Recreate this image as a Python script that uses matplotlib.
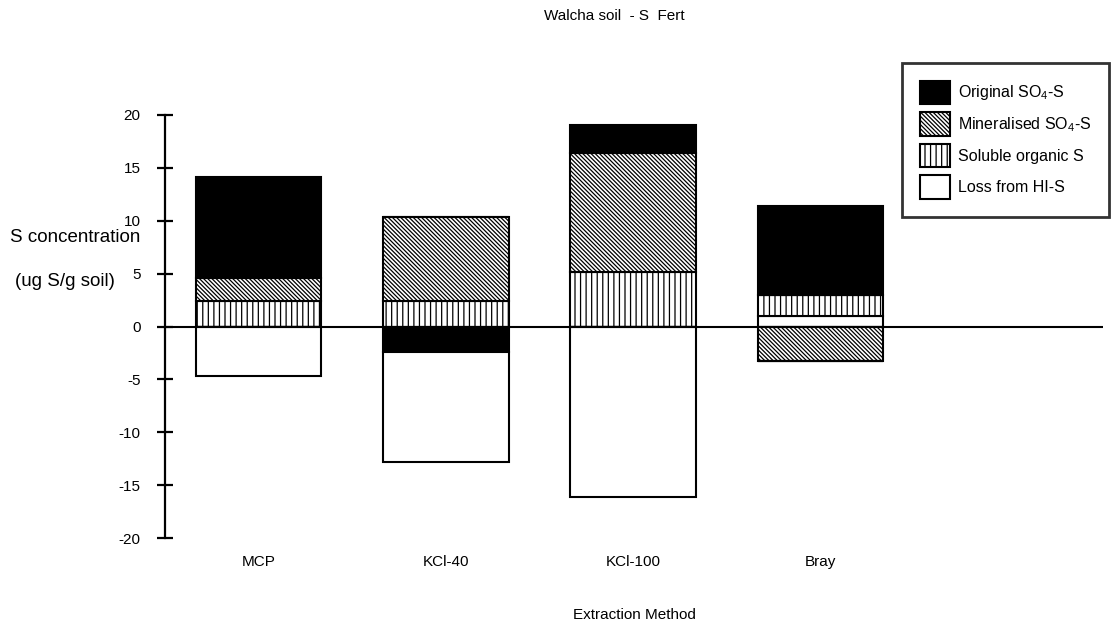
import matplotlib
matplotlib.use("Agg")
import matplotlib.pyplot as plt
from matplotlib.patches import Patch
import numpy as np

plt.rcParams['font.family'] = ['Liberation Sans', 'DejaVu Sans']
plt.rcParams['mathtext.fontset'] = 'custom'
plt.rcParams['mathtext.rm'] = 'Liberation Sans'
plt.rcParams['mathtext.default'] = 'regular'
plt.rcParams['hatch.linewidth'] = 0.9

# data (ug S/g soil)
categories = ['MCP', 'KCl-40', 'KCl-100', 'Bray']
original = [9.5, -2.4, 2.7, 8.4]
mineralised = [2.2, 8.0, 11.2, -3.3]
soluble = [2.4, 2.4, 5.2, 2.0]
loss = [-4.7, -10.4, -16.1, 1.0]

series_labels = ['Original SO$_4$-S', 'Mineralised SO$_4$-S', 'Soluble organic S', 'Loss from HI-S']
y_ticks = [20, 15, 10, 5, 0, -5, -10, -15, -20]

# fill style for each series: (facecolor, hatch)
styles = {
    'orig': ('black', None),
    'min': ('white', '\\' * 8),
    'sol': ('white', '|||'),
    'loss': ('white', None),
}
series = {'orig': original, 'min': mineralised, 'sol': soluble, 'loss': loss}
# stacking order away from zero, positive side; negative side is reversed
pos_order = ['loss', 'sol', 'min', 'orig']
neg_order = pos_order[::-1]

fig = plt.figure(figsize=(11.14, 6.25), dpi=100)
ax = fig.add_axes([165 / 1114, 1 - 538 / 625, (1103 - 165) / 1114, (538 - 115) / 625])

x = np.arange(len(categories))
width = 0.67
pos_bottom = np.zeros(len(categories))
neg_bottom = np.zeros(len(categories))

for key in pos_order:
    vals = np.array(series[key])
    v = np.where(vals > 0, vals, 0)
    fc, h = styles[key]
    ax.bar(x, v, width, bottom=pos_bottom, color=fc, edgecolor='black',
           hatch=h, linewidth=1.5, zorder=2)
    pos_bottom += v

for key in neg_order:
    vals = np.array(series[key])
    v = np.where(vals < 0, vals, 0)
    fc, h = styles[key]
    ax.bar(x, v, width, bottom=neg_bottom, color=fc, edgecolor='black',
           hatch=h, linewidth=1.5, zorder=2)
    neg_bottom += v

ax.axhline(0, color='black', linewidth=1.5, zorder=3)

ax.set_xlim(-0.499, 4.508)
ax.set_ylim(-20, 20)
ax.set_yticks(y_ticks)
ax.set_yticklabels([str(t) for t in y_ticks])
ax.set_xticks(x)
ax.set_xticklabels(categories)

for side in ['top', 'right', 'bottom']:
    ax.spines[side].set_visible(False)
ax.spines['left'].set_linewidth(1.6)

ax.tick_params(axis='y', direction='inout', length=11, width=1.6, pad=12, labelsize=11)
ax.tick_params(axis='x', length=0, pad=12, labelsize=11)
ax.set_xlabel('Extraction Method', fontsize=11, labelpad=28)

fig.text(10 / 1114, 1 - 238 / 625, 'S concentration', fontsize=13.5, ha='left', va='center')
fig.text(15 / 1114, 1 - 281 / 625, '(ug S/g soil)', fontsize=13.5, ha='left', va='center')
fig.text(614 / 1114, 1 - 16 / 625, 'Walcha soil  - S  Fert', fontsize=11, ha='center', va='center')

handles = []
for key, lab in zip(['orig', 'min', 'sol', 'loss'], series_labels):
    fc, h = styles[key]
    handles.append(Patch(facecolor=fc, edgecolor='black', hatch=h, linewidth=1.5, label=lab))

leg = fig.legend(handles=handles, loc='upper left', bbox_to_anchor=(902 / 1114, 1 - 63 / 625),
                 fontsize=11.5, frameon=True, fancybox=False, borderpad=1.1,
                 handlelength=1.9, handleheight=1.9, labelspacing=0.5, handletextpad=0.5,
                 borderaxespad=0)
leg.get_frame().set_edgecolor('black')
leg.get_frame().set_linewidth(2)

fig.savefig('out.png', dpi=100)
